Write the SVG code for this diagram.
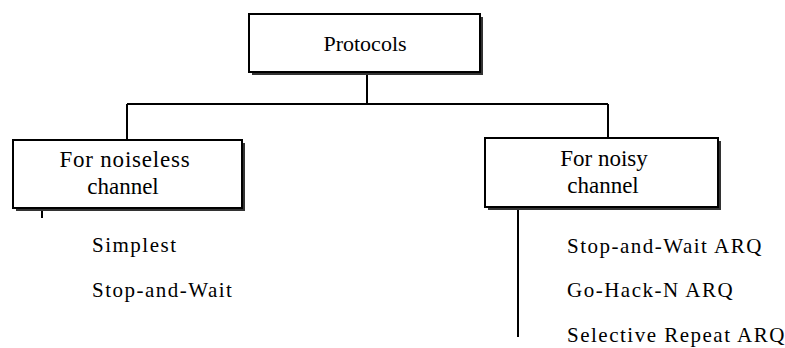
<svg xmlns="http://www.w3.org/2000/svg" width="785" height="348" viewBox="0 0 785 348">
<style>
.box{fill:#fff;stroke:#000;stroke-width:2}
.shadow{fill:#333}
.bt{font-size:23px;text-anchor:middle}
.pt{font-size:22px;text-anchor:middle}
.lt{font-size:21px;letter-spacing:1.5px}
.conn{stroke:#000;stroke-width:2;fill:none}
</style>
<rect width="785" height="348" fill="#fff"/>
<g id="connectors">
<path class="conn" d="M367 72 V104 M127 104 H608 M127 104 V140 M608 104 V138"/>
<path class="conn" d="M42 208 V218"/>
<path class="conn" d="M518 207 V337"/>
</g>
<g font-family="Liberation Serif, Times New Roman, serif" fill="#000">
<g id="protocols">
<rect class="shadow" x="252" y="17" width="231" height="58"/>
<rect class="box" x="249" y="14" width="231" height="58"/>
<text class="pt" x="365" y="51">Protocols</text>
</g>
<g id="noiseless">
<rect class="shadow" x="16" y="143" width="229" height="68"/>
<rect class="box" x="13" y="140" width="229" height="68"/>
<text class="bt" x="125" y="167" letter-spacing="0.8">For noiseless</text>
<text class="bt" x="123" y="194">channel</text>
</g>
<g id="noisy">
<rect class="shadow" x="488" y="141" width="233" height="69"/>
<rect class="box" x="485" y="138" width="233" height="69"/>
<text class="bt" x="604" y="166">For noisy</text>
<text class="bt" x="603" y="193">channel</text>
</g>
<g id="noiseless-list">
<text class="lt" x="92" y="252">Simplest</text>
<text class="lt" x="92" y="297">Stop-and-Wait</text>
</g>
<g id="noisy-list">
<text class="lt" x="567" y="253">Stop-and-Wait ARQ</text>
<text class="lt" x="567" y="297">Go-Hack-N ARQ</text>
<text class="lt" x="567" y="342">Selective Repeat ARQ</text>
</g>
</g>
</svg>
